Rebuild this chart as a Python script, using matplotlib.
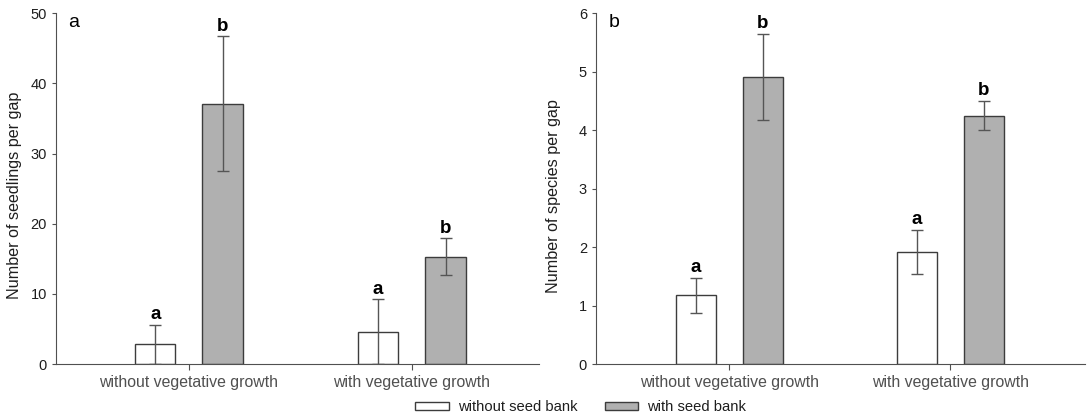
"""
Seedling density and species richness per gap, with and without seed bank
"""

import matplotlib
matplotlib.use('Agg')
import matplotlib.pyplot as plt
import matplotlib.patches as mpatches
import numpy as np

#---------------------------------------------------------------------------------------------------
# Input data
#---------------------------------------------------------------------------------------------------

groups = ['without vegetative growth', 'with vegetative growth']
series = ['without seed bank', 'with seed bank']

# Panel a: seedlings per gap (mean, SE)
seedlings_no_bank = [2.8, 4.6]
seedlings_no_bank_err = [2.8, 4.6]
seedlings_bank = [37.1, 15.3]
seedlings_bank_err = [9.6, 2.6]

# Panel b: species per gap (mean, SE)
species_no_bank = [1.18, 1.92]
species_no_bank_err = [0.30, 0.38]
species_bank = [4.91, 4.25]
species_bank_err = [0.74, 0.25]

letters_no_bank = ['a', 'a']
letters_bank = ['b', 'b']

#---------------------------------------------------------------------------------------------------
# Plotting
#---------------------------------------------------------------------------------------------------

plt.rcParams['font.family'] = ['Liberation Sans', 'DejaVu Sans']
fontsize = 10.5
axcol = '#505050'
txtcol = '#1e1e1e'
edgecol = '#3c3c3c'
fills = ['white', '#b0b0b0']

fig = plt.figure(figsize=(10.87, 4.2), dpi=100)
ax1 = fig.add_axes([0.0515, 0.1333, 0.4443, 0.835])
ax2 = fig.add_axes([0.5483, 0.1333, 0.4499, 0.835])

panels = [(ax1, 'a', 'Number of seedlings per gap', 50, 10, (-0.596, 1.570),
           [seedlings_no_bank, seedlings_bank], [seedlings_no_bank_err, seedlings_bank_err]),
          (ax2, 'b', 'Number of species per gap', 6, 1, (-0.603, 1.609),
           [species_no_bank, species_bank], [species_no_bank_err, species_bank_err])]

x = np.arange(len(groups))
width = 0.18
offsets = [-0.151, 0.151]

for ax, letter, ylabel, ymax, ystep, xlim, vals, errs in panels:
    for k in range(2):
        ax.bar(x + offsets[k], vals[k], width, color=fills[k], edgecolor=edgecol,
               linewidth=1.0, zorder=2)
        ax.errorbar(x + offsets[k], vals[k], yerr=errs[k], fmt='none', ecolor='#555555',
                    elinewidth=1.0, capsize=4, capthick=1.0, zorder=3)
        sig = letters_no_bank if k == 0 else letters_bank
        for i in range(len(groups)):
            ax.annotate(sig[i], (x[i] + offsets[k], vals[k][i] + errs[k][i]),
                        xytext=(0, 4), textcoords='offset points', ha='center', va='baseline',
                        fontsize=13.5, weight='bold', color='black')

    ax.set_xlim(*xlim)
    ax.set_ylim(0, ymax)
    ax.set_yticks(np.arange(0, ymax + ystep / 2, ystep))
    ax.set_xticks(x)
    ax.set_xticklabels(groups, fontsize=11.4, color=txtcol)
    ax.tick_params(axis='y', labelsize=fontsize, colors=axcol, labelcolor=txtcol, length=3, pad=3.5)
    ax.tick_params(axis='x', colors=axcol, length=4, pad=4)
    ax.set_ylabel(ylabel, fontsize=11.6, color=txtcol)
    ax.yaxis.set_label_coords(-0.071, 0.48)
    for s in ['top', 'right']:
        ax.spines[s].set_visible(False)
    for s in ['left', 'bottom']:
        ax.spines[s].set_color(axcol)
    ax.annotate(letter, xy=(0, 1), xycoords='axes fraction', xytext=(18, -13.4),
                textcoords='offset pixels', ha='center', va='baseline', fontsize=14,
                color='black')

handles = [mpatches.Patch(facecolor=fills[k], edgecolor=edgecol, linewidth=1.0, label=series[k])
           for k in range(2)]
fig.legend(handles=handles, loc='center left', bbox_to_anchor=(415 / 1087, 0.031), ncol=2,
           frameon=False, fontsize=10.6, handlelength=2.3, handleheight=0.5, columnspacing=1.85,
           handletextpad=0.6, borderpad=0, borderaxespad=0, labelcolor=txtcol)

plt.savefig('out.png', dpi=100)
plt.close()
